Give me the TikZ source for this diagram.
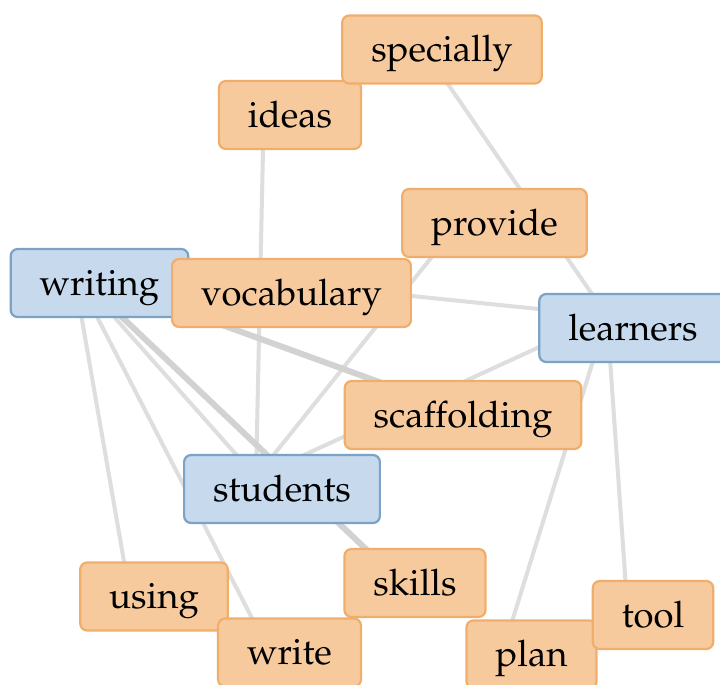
\documentclass[tikz,border=0pt]{standalone}
\usepackage[T1]{fontenc}
\usepackage{mathpazo}
\usepackage{tikz}
\usetikzlibrary{calc,backgrounds}
\definecolor{ofill}{HTML}{F7CA9E}
\definecolor{oline}{HTML}{EFAE6C}
\definecolor{bfill}{HTML}{C7D9EC}
\definecolor{bline}{HTML}{7AA3C6}
\definecolor{edgegray}{HTML}{DEDEDE}
\definecolor{edgedark}{HTML}{D2D2D2}
\tikzset{
  term/.style={draw, rounded corners=7pt, line width=2.2pt, minimum height=68pt,
    inner xsep=29pt, inner ysep=0pt, text height=24pt, text depth=0pt,
    font=\fontsize{36.5}{40}\selectfont},
  obox/.style={term, fill=ofill, draw=oline},
  bbox/.style={term, fill=bfill, draw=bline},
  link/.style={line width=4pt, draw=edgegray},
  strong/.style={line width=6pt, draw=edgedark}
}

\begin{document}
\begin{tikzpicture}[x=1pt,y=-1pt]
  \useasboundingbox (0,0) rectangle (720,685);
  \clip (0,0) rectangle (720,685);
  % terms
  \node[obox] (ideas)       at (290,115)   {ideas};
  \node[obox] (specially)   at (442,49.5)  {specially};
  \node[obox] (provide)     at (494.5,223) {provide};
  \node[bbox] (writing)     at (99.5,283)  {writing};
  \node[obox] (vocabulary)  at (291.5,293) {vocabulary};
  \node[bbox] (learners)    at (633,328)   {learners};
  \node[obox] (scaffolding) at (463,415)   {scaffolding};
  \node[bbox] (students)    at (282,489)   {students};
  \node[obox] (using)       at (154,596.5) {using};
  \node[obox] (skills)      at (415,583)   {skills};
  \node[obox] (write)       at (289.5,652.5) {write};
  \node[obox] (plan)        at (531.5,654.5) {plan};
  \node[obox] (tool)        at (653,615)   {tool};
  % graph points
  \foreach \n in {ideas,specially,provide,writing,vocabulary,learners,
                  scaffolding,students,using,skills,write,plan,tool}
    \coordinate (\n-p) at ($(\n.center)+(-26,-12)$);
  \begin{scope}[on background layer]
    \fill[white] (0,0) rectangle (720,685);
    \foreach \a/\b in {specially/learners, ideas/students, provide/students,
                       vocabulary/learners, writing/using, writing/write,
                       writing/students, learners/students, learners/plan,
                       learners/tool}
      \draw[link] (\a-p) -- (\b-p);
    \foreach \a/\b in {writing/skills, writing/scaffolding}
      \draw[strong] (\a-p) -- (\b-p);
  \end{scope}
\end{tikzpicture}
\end{document}
